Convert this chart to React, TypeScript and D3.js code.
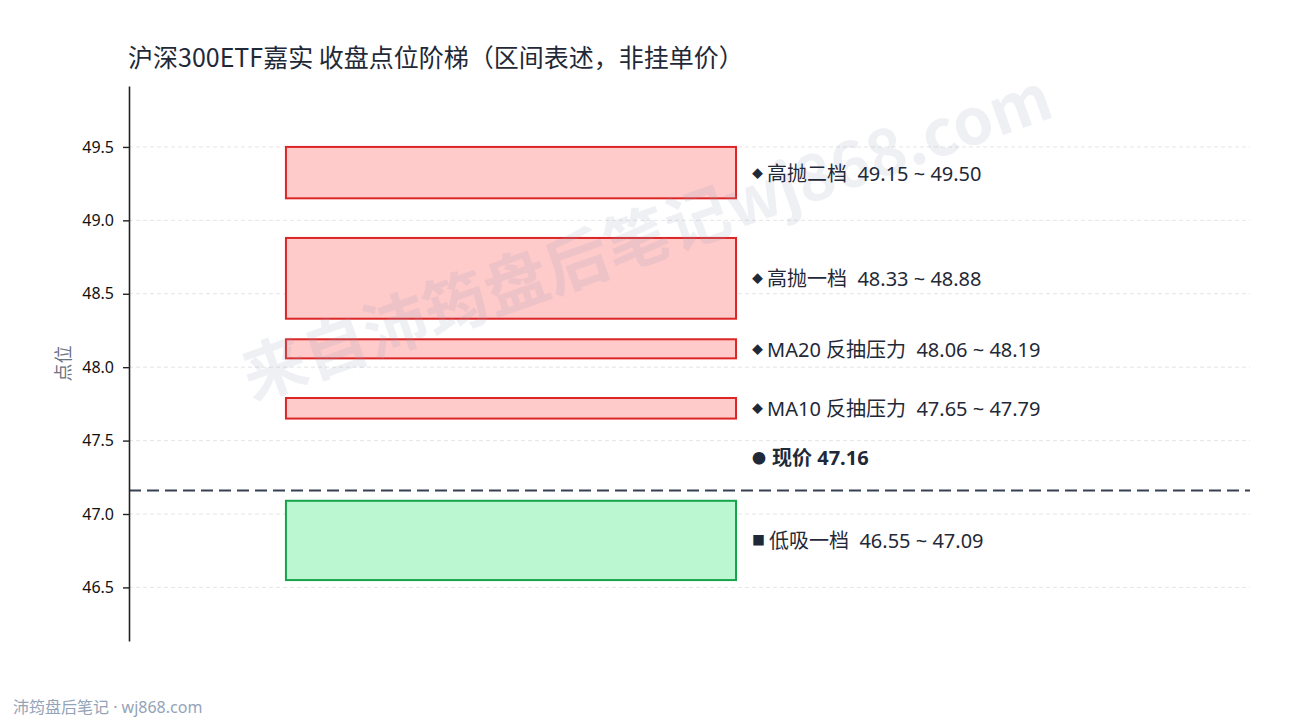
import React, { useEffect, useRef } from "react";
import * as d3 from "d3";

// zone data
const zoneNames = ["高抛二档", "高抛一档", "MA20 反抽压力", "MA10 反抽压力", "低吸一档"];
const zoneLow = [49.15, 48.33, 48.06, 47.65, 46.55];
const zoneHigh = [49.5, 48.88, 48.19, 47.79, 47.09];
const zoneKind = ["sell", "sell", "sell", "sell", "buy"];
const currentPrice = 47.16;
const yTicks = [46.5, 47.0, 47.5, 48.0, 48.5, 49.0, 49.5];

const W = 1290;
const H = 720;
const margin = { top: 86, right: 40, bottom: 79, left: 129 };
const FONT = "'Noto Sans', 'Noto Sans CJK SC', sans-serif";
const CJK = "'Noto Sans CJK SC', 'Noto Sans', sans-serif";
const NB = "\u00a0\u00a0"; // keep the double gap

const App: React.FC = () => {
  const ref = useRef<SVGSVGElement>(null);

  useEffect(() => {
    const svg = d3.select(ref.current);
    svg.selectAll("*").remove();

    const y = d3
      .scaleLinear()
      .domain([46.135, 49.915]) // padded around the zones
      .range([H - margin.bottom, margin.top]);

    const x = d3
      .scaleLinear()
      .domain([0, 1])
      .range([margin.left, W - margin.right]);

    svg.append("rect").attr("width", W).attr("height", H).attr("fill", "#ffffff");

    // grid
    svg
      .append("g")
      .selectAll("line")
      .data(yTicks)
      .join("line")
      .attr("x1", x(0))
      .attr("x2", x(1))
      .attr("y1", (d) => y(d))
      .attr("y2", (d) => y(d))
      .attr("stroke", "#dedede")
      .attr("stroke-width", 0.8)
      .attr("stroke-dasharray", "4,3");

    // zone rects
    svg
      .append("g")
      .selectAll("rect")
      .data(zoneNames)
      .join("rect")
      .attr("x", x(0.14))
      .attr("width", x(0.5415) - x(0.14))
      .attr("y", (_, i) => y(zoneHigh[i]))
      .attr("height", (_, i) => y(zoneLow[i]) - y(zoneHigh[i]))
      .attr("fill", (_, i) => (zoneKind[i] === "sell" ? "#fecaca" : "#bbf7d0"))
      .attr("stroke", (_, i) => (zoneKind[i] === "sell" ? "#dc2626" : "#16a34a"))
      .attr("stroke-width", 2);

    // watermark (drawn over the zones)
    svg
      .append("text")
      .attr("transform", `translate(645,232) rotate(-19.5)`)
      .attr("text-anchor", "middle")
      .attr("dominant-baseline", "central")
      .attr("font-family", CJK)
      .attr("font-weight", 700)
      .attr("font-size", 64)
      .attr("fill", "#94a3b8")
      .attr("fill-opacity", 0.16)
      .text("来自沛筠盘后笔记wj868.com");

    // zone labels
    const labels = svg
      .append("g")
      .selectAll("text")
      .data(zoneNames)
      .join("text")
      .attr("x", x(0.5415) + 16)
      .attr("y", (_, i) => y((zoneLow[i] + zoneHigh[i]) / 2))
      .attr("dominant-baseline", "central")
      .attr("font-family", FONT)
      .attr("font-size", 20)
      .attr("fill", "#1f2937");
    labels
      .append("tspan")
      .attr("font-size", (_, i) => (zoneKind[i] === "sell" ? 11 : 13))
      .text((_, i) => (zoneKind[i] === "sell" ? "◆" : "■"));
    labels
      .append("tspan")
      .attr("dx", 4)
      .text((d, i) => `${d}${NB}${zoneLow[i].toFixed(2)} ~ ${zoneHigh[i].toFixed(2)}`);

    // current price line
    svg
      .append("line")
      .attr("x1", x(0))
      .attr("x2", x(1))
      .attr("y1", y(currentPrice))
      .attr("y2", y(currentPrice))
      .attr("stroke", "#374151")
      .attr("stroke-width", 2)
      .attr("stroke-dasharray", "12,6");

    const cur = svg
      .append("text")
      .attr("x", x(0.5415) + 16)
      .attr("y", y(currentPrice + 0.23))
      .attr("dominant-baseline", "central")
      .attr("font-family", FONT)
      .attr("font-weight", 700)
      .attr("font-size", 20)
      .attr("fill", "#1f2937");
    cur.append("tspan").attr("font-size", 14).text("●");
    cur.append("tspan").attr("dx", 6).text(`现价 ${currentPrice.toFixed(2)}`);

    // y axis
    const axis = svg
      .append("g")
      .attr("transform", `translate(${margin.left},0)`)
      .call(
        d3
          .axisLeft(y)
          .tickValues(yTicks)
          .tickFormat(d3.format(".1f"))
          .tickSize(6)
          .tickSizeOuter(0)
      );
    axis.select(".domain").attr("stroke", "#222").attr("stroke-width", 1.6);
    axis.selectAll(".tick line").attr("stroke", "#222").attr("stroke-width", 1.4);
    axis
      .selectAll(".tick text")
      .attr("font-family", FONT)
      .attr("font-size", 16)
      .attr("fill", "#111")
      .attr("x", -15);

    svg
      .append("text")
      .attr("transform", `translate(62,${(margin.top + H - margin.bottom) / 2}) rotate(-90)`)
      .attr("text-anchor", "middle")
      .attr("dominant-baseline", "central")
      .attr("font-family", CJK)
      .attr("font-size", 18)
      .attr("fill", "#6b7280")
      .text("点位");

    // title
    svg
      .append("text")
      .attr("x", 128)
      .attr("y", 67)
      .attr("font-family", CJK)
      .attr("font-size", 25)
      .attr("fill", "#1f2937")
      .text("沪深300ETF嘉实 收盘点位阶梯（区间表述，非挂单价）");

    // footer
    svg
      .append("text")
      .attr("x", 13)
      .attr("y", 713)
      .attr("font-family", FONT)
      .attr("font-size", 16)
      .attr("fill", "#94a3b8")
      .text("沛筠盘后笔记 · wj868.com");
  }, []);

  return (
    <svg
      ref={ref}
      width={W}
      height={H}
      style={{ position: "absolute", left: 0, top: 0, display: "block" }}
    />
  );
};

export default App;
